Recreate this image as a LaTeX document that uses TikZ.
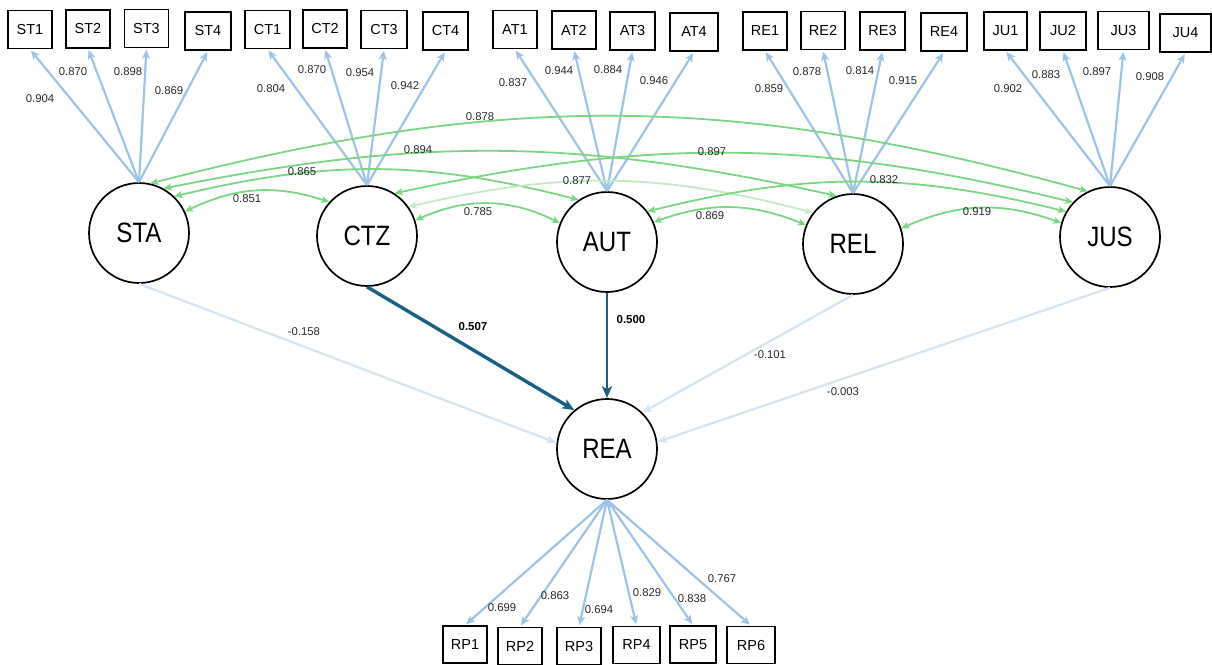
\documentclass[tikz,border=0pt]{standalone}
\usepackage{fontspec}
\setmainfont{Liberation Sans}
\newfontfamily\narrowfont[FakeStretch=0.86]{Liberation Sans}
\usetikzlibrary{arrows.meta}
\definecolor{loadblue}{RGB}{157,195,230}
\definecolor{covgreen}{RGB}{122,214,130}
\definecolor{covlight}{RGB}{196,235,198}
\definecolor{pathdark}{RGB}{26,96,130}
\definecolor{pathlight}{RGB}{212,228,243}
\definecolor{labelgray}{RGB}{40,40,40}
\begin{document}
\begin{tikzpicture}[x=1pt,y=1pt,
  lat/.style={circle,draw=black,line width=1.7pt,minimum size=100pt,inner sep=0pt,font=\narrowfont\fontsize{28}{30}\selectfont},
  ind/.style={draw=black,line width=1.7pt,minimum width=44pt,minimum height=38pt,inner sep=0pt,font=\fontsize{14.5}{16}\selectfont},
  load/.style={draw=loadblue,line width=2.2pt,shorten >=1.5pt,-{Stealth[length=9pt,width=8pt,inset=2.5pt]}},
  cov/.style={draw=covgreen,line width=1.8pt,{Stealth[length=8pt,width=7pt,inset=2pt]}-{Stealth[length=8pt,width=7pt,inset=2pt]}},
  pathweak/.style={draw=pathlight,line width=2.2pt,-{Stealth[length=10pt,width=8pt,inset=2.5pt]}},
  pathstrong/.style={draw=pathdark,-{Stealth[length=12pt,width=10pt,inset=3pt]}},
  lbl/.style={font=\fontsize{11.3}{13}\selectfont,text=labelgray,inner sep=0pt},
  blbl/.style={font=\bfseries\fontsize{11.5}{13}\selectfont,text=black,inner sep=0pt},
]
\useasboundingbox (0,0) rectangle (1212,-664);

% latent variables
\node[lat] (STA) at (139,-233) {STA};
\node[lat] (CTZ) at (367,-236) {CTZ};
\node[lat] (AUT) at (607,-242) {AUT};
\node[lat] (REL) at (853,-244) {REL};
\node[lat] (JUS) at (1110,-237) {JUS};
\node[lat] (REA) at (607,-449) {REA};

% indicators
\node[ind] (ST1) at (30,-29.5) {ST1};
\node[ind] (ST2) at (88,-29) {ST2};
\node[ind] (ST3) at (146.5,-28.5) {ST3};
\node[ind,minimum width=46pt] (ST4) at (208,-31) {ST4};
\node[ind,minimum width=45pt] (CT1) at (267.5,-29.5) {CT1};
\node[ind] (CT2) at (325,-29) {CT2};
\node[ind,minimum width=46pt] (CT3) at (384,-29.5) {CT3};
\node[ind,minimum width=45pt] (CT4) at (445.5,-31) {CT4};
\node[ind] (AT1) at (515,-29.5) {AT1};
\node[ind] (AT2) at (574,-30) {AT2};
\node[ind,minimum width=45pt] (AT3) at (632.5,-31) {AT3};
\node[ind,minimum width=48pt] (AT4) at (694,-32) {AT4};
\node[ind] (RE1) at (765,-31) {RE1};
\node[ind] (RE2) at (823,-30.5) {RE2};
\node[ind,minimum width=45pt] (RE3) at (882.5,-31) {RE3};
\node[ind,minimum width=46pt] (RE4) at (944,-32) {RE4};
\node[ind,minimum width=43pt] (JU1) at (1005.5,-31) {JU1};
\node[ind,minimum width=46pt] (JU2) at (1063,-31) {JU2};
\node[ind,minimum width=51pt] (JU3) at (1123.5,-30.5) {JU3};
\node[ind,minimum width=51pt] (JU4) at (1185.5,-33) {JU4};

\node[ind,minimum height=37pt] (RP1) at (465,-644.5) {RP1};
\node[ind,minimum height=37pt] (RP2) at (520,-646) {RP2};
\node[ind,minimum height=37pt] (RP3) at (579,-646) {RP3};
\node[ind,minimum height=37pt,minimum width=47pt] (RP4) at (636.5,-645) {RP4};
\node[ind,minimum height=37pt,minimum width=46pt] (RP5) at (693,-644.5) {RP5};
\node[ind,minimum height=37pt,minimum width=48pt] (RP6) at (751,-645) {RP6};

% loadings
\foreach \l/\i in {STA/ST1,STA/ST2,STA/ST3,STA/ST4,CTZ/CT1,CTZ/CT2,CTZ/CT3,CTZ/CT4,AUT/AT1,AUT/AT2,AUT/AT3,AUT/AT4,REL/RE1,REL/RE2,REL/RE3,REL/RE4,JUS/JU1,JUS/JU2,JUS/JU3,JUS/JU4}
  \draw[load] (\l.north) -- (\i.south);
\foreach \i in {RP1,RP2,RP3,RP4,RP5,RP6}
  \draw[load] (REA.south) -- (\i.north);

% covariances
\draw[cov] (STA.77) to[bend left=15] (JUS.116);
\draw[cov] (STA.61) to[bend left=12] (REL.109);
\draw[cov] (CTZ.57) to[bend left=13] (JUS.137);
\draw[cov] (STA.46) to[bend left=14] (AUT.124);
\draw[cov,draw=covlight] (CTZ.35) to[bend left=14] (REL.142);
\draw[cov] (AUT.37) to[bend left=14] (JUS.150);
\draw[cov] (STA.25) to[bend left=22] (CTZ.138);
\draw[cov] (CTZ.18) to[bend left=25] (AUT.158);
\draw[cov] (AUT.23) to[bend left=21] (REL.158);
\draw[cov] (REL.18) to[bend left=22] (JUS.164);

% structural paths
\draw[pathweak] (STA.south) -- (REA.173);
\draw[pathstrong,line width=3.4pt] (CTZ.south) -- (REA.130);
\draw[pathstrong,line width=2.6pt] (AUT.south) -- (REA.north);
\draw[pathweak] (REL.south) -- (REA.46);
\draw[pathweak] (JUS.south) -- (REA.8);

% loading labels
\node[lbl] (lST1) at (40,-99) {0.904};
\node[lbl] (lST2) at (73,-72) {0.870};
\node[lbl] (lST3) at (128,-72) {0.898};
\node[lbl] (lST4) at (169,-91) {0.869};
\node[lbl] (lCT1) at (271,-89) {0.804};
\node[lbl] (lCT2) at (312,-70) {0.870};
\node[lbl] (lCT3) at (360,-73) {0.954};
\node[lbl] (lCT4) at (405,-86) {0.942};
\node[lbl] (lAT1) at (513,-83) {0.837};
\node[lbl] (lAT2) at (559,-71) {0.944};
\node[lbl] (lAT3) at (608,-70) {0.884};
\node[lbl] (lAT4) at (654,-81) {0.946};
\node[lbl] (lRE1) at (769,-89) {0.859};
\node[lbl] (lRE2) at (807,-72) {0.878};
\node[lbl] (lRE3) at (860,-71) {0.814};
\node[lbl] (lRE4) at (903,-81) {0.915};
\node[lbl] (lJU1) at (1008,-89) {0.902};
\node[lbl] (lJU2) at (1046,-75) {0.883};
\node[lbl] (lJU3) at (1097,-72) {0.897};
\node[lbl] (lJU4) at (1150,-77) {0.908};

% covariance labels
\node[lbl] (cSJ) at (480,-117) {0.878};
\node[lbl] (cSR) at (418,-150) {0.894};
\node[lbl] (cSA) at (302,-172) {0.865};
\node[lbl] (cSC) at (247,-199) {0.851};
\node[lbl] (cCJ) at (712,-152) {0.897};
\node[lbl] (cCR) at (577,-181) {0.877};
\node[lbl] (cCA) at (478,-212) {0.785};
\node[lbl] (cAJ) at (884,-180) {0.832};
\node[lbl] (cAR) at (710,-216) {0.869};
\node[lbl] (cRJ) at (977,-212) {0.919};

% structural labels
\node[lbl] (sSTA) at (304,-332) {-0.158};
\node[blbl] (sCTZ) at (473,-327) {0.507};
\node[blbl] (sAUT) at (631,-320) {0.500};
\node[lbl] (sREL) at (770,-355) {-0.101};
\node[lbl] (sJUS) at (843,-392) {-0.003};

% outcome loadings
\node[lbl] (lRP1) at (502,-608) {0.699};
\node[lbl] (lRP2) at (555,-596) {0.863};
\node[lbl] (lRP3) at (599,-610) {0.694};
\node[lbl] (lRP4) at (647,-593) {0.829};
\node[lbl] (lRP5) at (692,-599) {0.838};
\node[lbl] (lRP6) at (722,-579) {0.767};
\end{tikzpicture}
\end{document}
